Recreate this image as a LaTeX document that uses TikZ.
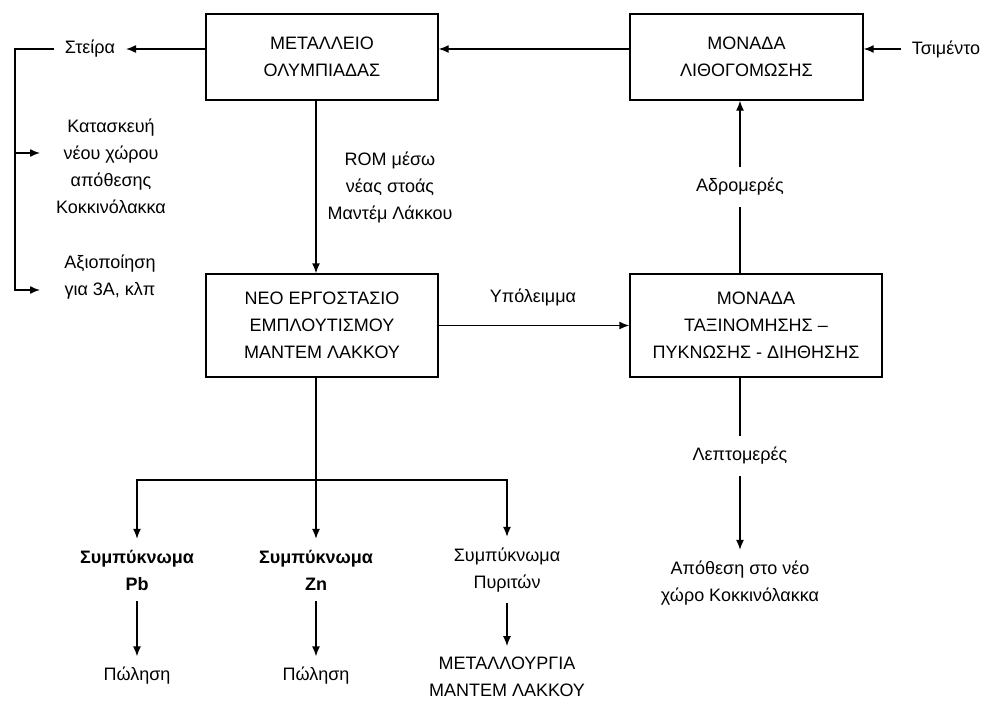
\documentclass[tikz,border=0pt]{standalone}
\usepackage{fontspec}
\setmainfont{Liberation Sans}
\usetikzlibrary{arrows.meta,positioning}

\begin{document}
\begin{tikzpicture}[x=1pt,y=-1pt,>={Latex[length=10pt,width=8pt]},line width=1.4pt,
  font=\fontsize{18}{27}\selectfont,
  box/.style={draw,align=center,inner sep=0pt},
  txt/.style={align=center,inner sep=0pt,outer sep=11pt}]
  \useasboundingbox (0,0) rectangle (984,704);
  \node[box,minimum width=232pt,minimum height=86pt] (meta) at (322,57) {ΜΕΤΑΛΛΕΙΟ\\ΟΛΥΜΠΙΑΔΑΣ};
  \node[box,minimum width=233pt,minimum height=86pt] (litho) at (746.5,57) {ΜΟΝΑΔΑ\\ΛΙΘΟΓΟΜΩΣΗΣ};
  \node[box,minimum width=232pt,minimum height=103pt] (neo) at (322,325.5) {ΝΕΟ ΕΡΓΟΣΤΑΣΙΟ\\ΕΜΠΛΟΥΤΙΣΜΟΥ\\ΜΑΝΤΕΜ ΛΑΚΚΟΥ};
  \node[box,minimum width=252pt,minimum height=103pt] (tax) at (756,325.5) {ΜΟΝΑΔΑ\\ΤΑΞΙΝΟΜΗΣΗΣ –\\ΠΥΚΝΩΣΗΣ - ΔΙΗΘΗΣΗΣ};

  \node[txt] (steira) at (90,49) {Στείρα};
  \node[txt] (kat) at (111,166) {Κατασκευή\\νέου χώρου\\απόθεσης\\Κοκκινόλακκα};
  \node[txt] (axi) at (110,277) {Αξιοποίηση\\για 3Α, κλπ};
  \node[txt] (rom) at (390,187) {ROM μέσω\\νέας στοάς\\Μαντέμ Λάκκου};
  \node[txt] (ypol) at (533,297) {Υπόλειμμα};
  \node[txt] (adro) at (740,187) {Αδρομερές};
  \node[txt] (tsim) at (946,49) {Τσιμέντο};
  \node[txt] (lept) at (740,456) {Λεπτομερές};
  \node[txt] (apoth) at (740,583) {Απόθεση στο νέο\\χώρο Κοκκινόλακκα};
  \node[txt] (pb) at (137,570) {\bfseries Συμπύκνωμα\\\bfseries Pb};
  \node[txt] (zn) at (316,570) {\bfseries Συμπύκνωμα\\\bfseries Zn};
  \node[txt] (pyr) at (507,570) {Συμπύκνωμα\\Πυριτών};
  \node[txt] (pol1) at (137,676) {Πώληση};
  \node[txt] (pol2) at (316,676) {Πώληση};
  \node[txt] (metal) at (507,677) {ΜΕΤΑΛΛΟΥΡΓΙΑ\\ΜΑΝΤΕΜ ΛΑΚΚΟΥ};

  \coordinate (brk) at (15,290);
  \coordinate (tipk) at (40,153);
  \coordinate (tipa) at (40,290);
  \coordinate (split) at (316,480);

  \draw[->] (tsim) -- (litho.east |- tsim);
  \draw[->] ([yshift=8pt]litho.west) -- ([yshift=8pt]meta.east);
  \draw[->] ([yshift=8pt]meta.west) -- (steira.east);
  \draw[->] (steira.west) -| (brk) -- (tipa);
  \draw[->] (brk |- tipk) -- (tipk);
  \draw[->] (meta.south -| split) -- (neo.north -| split);
  \draw[->] (neo) -- (tax);
  \draw (tax.north -| adro) -- (adro);
  \draw[->] (adro) -- (litho.south -| adro);
  \draw (tax.south -| lept) -- (lept);
  \draw[->] (lept) -- (apoth);
  \draw (neo.south -| split) -- (split);
  \draw[->] (split) -| (pb.north);
  \draw[->] (split) -- (zn.north);
  \draw[->] (split) -| (pyr.north);
  \draw[->] (pb) -- (pol1);
  \draw[->] (zn) -- (pol2);
  \draw[->] (pyr) -- (metal);
\end{tikzpicture}
\end{document}
